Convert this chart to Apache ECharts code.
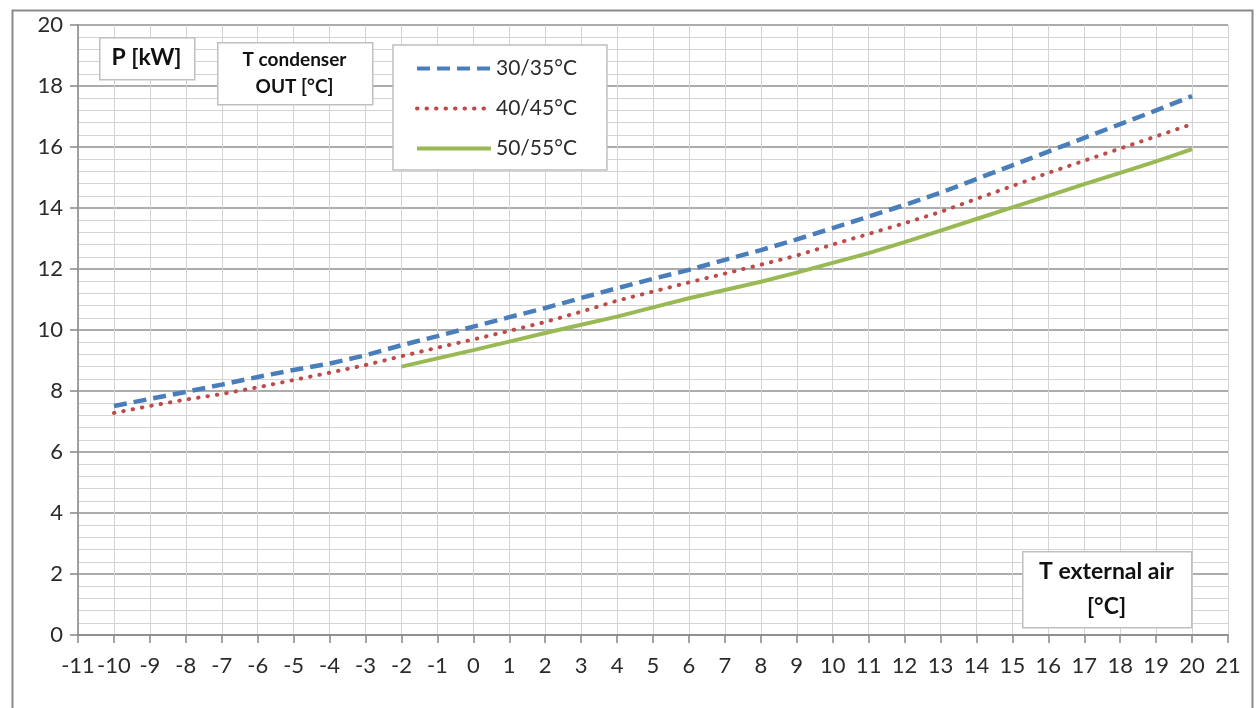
<!DOCTYPE html>
<html>
<head>
<meta charset="utf-8">
<script src="https://cdn.jsdelivr.net/npm/echarts@6/dist/echarts.min.js"></script>
<style>
  html, body { margin: 0; padding: 0; background: #ffffff; }
  #chart { width: 1257px; height: 708px; }
</style>
</head>
<body>
<div id="chart"></div>
<script>
// External air temperature [°C] for the two full curves
const temps = [-10, -9, -8, -7, -6, -5, -4, -3, -2, -1, 0, 1, 2, 3, 4, 5, 6, 7, 8, 9, 10,
               11, 12, 13, 14, 15, 16, 17, 18, 19, 20];
// Heating power P [kW], condenser outlet 30/35 °C
const p3035 = [7.51, 7.74, 7.97, 8.21, 8.46, 8.69, 8.90, 9.17, 9.50, 9.80, 10.11, 10.42, 10.72,
               11.05, 11.37, 11.68, 11.97, 12.30, 12.62, 12.97, 13.34, 13.72, 14.10, 14.50,
               14.95, 15.40, 15.85, 16.30, 16.75, 17.20, 17.67];
// Heating power P [kW], condenser outlet 40/45 °C
const p4045 = [7.28, 7.51, 7.72, 7.90, 8.12, 8.36, 8.60, 8.85, 9.14, 9.42, 9.69, 9.97, 10.26,
               10.60, 10.96, 11.26, 11.56, 11.85, 12.14, 12.44, 12.80, 13.15, 13.50, 13.87,
               14.30, 14.72, 15.15, 15.55, 15.95, 16.35, 16.75];
// 50/55 °C curve starts at -2 °C
const tempsHigh = [-2, -1, 0, 1, 2, 3, 4, 5, 6, 7, 8, 9, 10, 11, 12, 13, 14, 15, 16, 17, 18, 19, 20];
const p5055 = [8.80, 9.07, 9.34, 9.62, 9.90, 10.17, 10.44, 10.74, 11.04, 11.31, 11.58, 11.88,
               12.20, 12.52, 12.88, 13.26, 13.64, 14.02, 14.40, 14.78, 15.15, 15.53, 15.93];

const seriesNames = ['30/35°C', '40/45°C', '50/55°C'];
const powerLabel = 'P [kW]';
const condenserLabel = ['T condenser', 'OUT [°C]'];
const airLabel = ['T external air', '[°C]'];

const FONT = 'Lato, "Open Sans", sans-serif';
const pairs = (xs, ys) => xs.map((x, i) => [x, ys[i]]);

const chart = echarts.init(document.getElementById('chart'), null, { renderer: 'canvas' });

// white boxed caption drawn on top of the grid
function labelBox(x, y, w, h, lines, size, lineH) {
  return [
    { type: 'rect', left: x, top: y, z: 100, silent: true,
      shape: { x: 0, y: 0, width: w, height: h },
      style: { fill: '#ffffff', stroke: '#bfbfbf', lineWidth: 1.5 } },
    { type: 'text', x: x + w / 2, y: y + h / 2, z: 101, silent: true,
      style: { text: lines.join('\n'), fill: '#111111', font: 'bold ' + size + 'px ' + FONT,
               textAlign: 'center', textVerticalAlign: 'middle', lineHeight: lineH } }
  ];
}

chart.setOption({
  animation: false,
  backgroundColor: '#ffffff',
  grid: { left: 78, right: 29, top: 25, bottom: 73, containLabel: false },
  xAxis: {
    type: 'value', min: -11, max: 21, interval: 1,
    axisLine: { show: true, onZero: false, lineStyle: { color: '#868686', width: 1.5 } },
    axisTick: { show: true, length: 8, lineStyle: { color: '#868686', width: 1.5 } },
    axisLabel: { color: '#2b2b2b', fontSize: 22, fontFamily: FONT, margin: 20 },
    splitLine: { show: true, lineStyle: { color: '#d3d3d3', width: 1 } }
  },
  yAxis: {
    type: 'value', min: 0, max: 20, interval: 2,
    axisLine: { show: true, onZero: false, lineStyle: { color: '#868686', width: 1.5 } },
    axisTick: { show: true, length: 8, lineStyle: { color: '#868686', width: 1.5 } },
    axisLabel: { color: '#2b2b2b', fontSize: 22, fontFamily: FONT, margin: 15 },
    splitLine: { show: true, lineStyle: { color: '#909090', width: 1.5 } },
    minorTick: { show: false, splitNumber: 5 },
    minorSplitLine: { show: true, lineStyle: { color: '#d3d3d3', width: 1 } }
  },
  legend: {
    orient: 'vertical', left: 393, top: 45,
    backgroundColor: '#ffffff', borderColor: '#bfbfbf', borderWidth: 1.5,
    padding: [13, 30, 11, 22], itemGap: 19, itemWidth: 74, itemHeight: 14,
    itemStyle: { opacity: 0 },
    lineStyle: { width: 4 },
    textStyle: { color: '#2b2b2b', fontSize: 21, fontFamily: FONT },
    data: seriesNames
  },
  series: [
    { name: seriesNames[0], type: 'line', symbol: 'none', data: pairs(temps, p3035), z: 4,
      lineStyle: { color: '#4a7ebb', width: 4.5, type: [13, 7], cap: 'butt' },
      itemStyle: { color: '#4a7ebb' } },
    { name: seriesNames[1], type: 'line', symbol: 'none', data: pairs(temps, p4045), z: 3,
      lineStyle: { color: '#be4b48', width: 4, type: [0.5, 9], cap: 'round' },
      itemStyle: { color: '#be4b48' } },
    { name: seriesNames[2], type: 'line', symbol: 'none', data: pairs(tempsHigh, p5055), z: 2,
      lineStyle: { color: '#98b954', width: 4, type: 'solid' },
      itemStyle: { color: '#98b954' } }
  ],
  graphic: [
    { type: 'rect', left: 10, top: 8, z: 0, silent: true,
      shape: { x: 0, y: 0, width: 1240, height: 720 },
      style: { fill: 'none', stroke: '#8a8a8a', lineWidth: 2 } },
    ...labelBox(99, 37, 95, 42, [powerLabel], 23, 26),
    ...labelBox(217, 42, 155, 62, condenserLabel, 19, 27),
    ...labelBox(1022, 551, 169, 76, airLabel, 23, 35)
  ]
});
</script>
</body>
</html>
